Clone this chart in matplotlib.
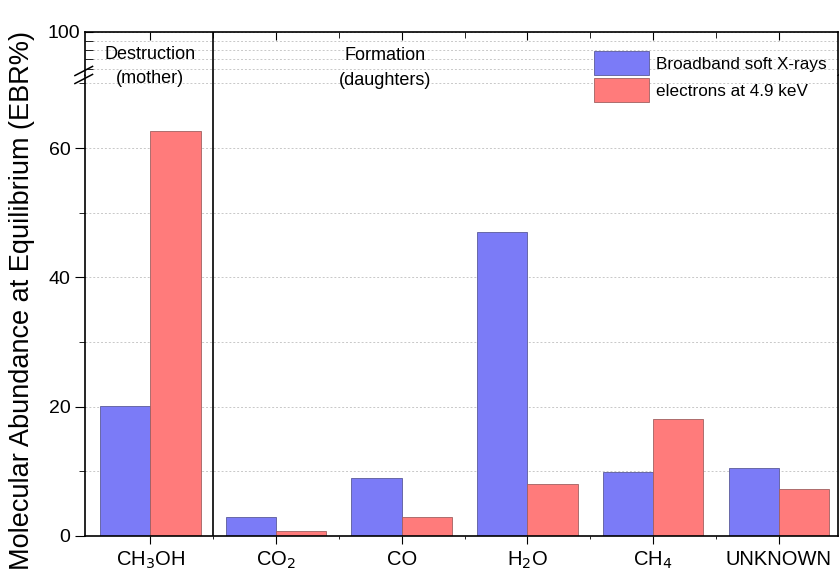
import matplotlib
matplotlib.use("Agg")
import matplotlib.pyplot as plt
import numpy as np

plt.rcParams['font.family'] = ['Liberation Sans', 'DejaVu Sans']

# data
species = ['CH$_3$OH', 'CO$_2$', 'CO', 'H$_2$O', 'CH$_4$', 'UNKNOWN']
xrays = [20.1, 2.9, 9.0, 47.0, 9.9, 10.5]
electrons = [62.6, 0.8, 2.9, 8.0, 18.1, 7.3]
series_names = ['Broadband soft X-rays', 'electrons at 4.9 keV']

blue = '#7b7bf7'
red = '#ff7b7b'

fig = plt.figure(figsize=(8.39, 5.71), dpi=100)
left, width = 0.1013, 0.8975
brk = 0.8687
ax = fig.add_axes([left, 0.0613, width, brk - 0.0613])
ax_top = fig.add_axes([left, brk, width, 0.944 - brk], sharex=ax)

x = np.arange(len(species))
w = 0.4
b1 = ax.bar(x - w / 2, xrays, w, color=blue, edgecolor='#5a5a9a', linewidth=0.6, label=series_names[0])
b2 = ax.bar(x + w / 2, electrons, w, color=red, edgecolor='#a06060', linewidth=0.6, label=series_names[1])

ax.set_xlim(-0.52, 5.47)
ax.set_ylim(0, 71.3)
ax_top.set_ylim(90.6, 100)

ax.set_xticks(x)
ax.set_xticklabels(species, fontsize=14.5)
ax.set_yticks([0, 20, 40, 60])
ax.set_yticks([10, 30, 50, 70], minor=True)
ax.tick_params(axis='y', which='major', labelsize=14, length=7, direction='out')
ax.tick_params(axis='y', which='minor', length=4, direction='out')
ax.tick_params(axis='x', which='major', length=6, direction='out', pad=4)

ax_top.set_yticks([100])
ax_top.set_yticks([92, 94, 96, 98], minor=True)
ax_top.tick_params(axis='y', which='major', labelsize=14, length=6, direction='in')
ax_top.tick_params(axis='y', which='minor', length=6, direction='in')
ax_top.tick_params(axis='x', which='both', bottom=False, labelbottom=False,
                   top=True, direction='in')
ax_top.tick_params(axis='x', which='major', length=6)
ax_top.tick_params(axis='x', which='minor', length=4)
ax_top.set_xticks(x[:-1] + 0.5, minor=True)

for a in (ax, ax_top):
    a.grid(True, which='both', axis='y', linestyle=(0, (2, 2)), color='#c8c8c8', linewidth=0.7)
    a.set_axisbelow(True)
    a.axvline(0.5, color='black', linewidth=1.2)
    for s in a.spines.values():
        s.set_linewidth(1.2)
ax.spines['top'].set_visible(False)
ax_top.spines['bottom'].set_visible(False)

# axis break marks on the left spine
for dy in (-0.007, 0.007):
    fig.add_artist(plt.Line2D([left - 0.012, left + 0.009],
                              [brk + dy - 0.008, brk + dy + 0.008],
                              transform=fig.transFigure, color='black', linewidth=1.1))

fig.text(left + (0 + 0.52) / 5.99 * width, 0.884, 'Destruction\n(mother)',
         ha='center', va='center', fontsize=13, linespacing=1.55)
fig.text(left + (1.87 + 0.52) / 5.99 * width, 0.881, 'Formation\n(daughters)',
         ha='center', va='center', fontsize=13, linespacing=1.55)

fig.legend(handles=[b1, b2], loc='upper left', bbox_to_anchor=(0.690, 0.937),
           frameon=False, fontsize=12.3, handlelength=3.2, handleheight=1.76,
           labelspacing=0.2, handletextpad=0.4, borderpad=0.4)

fig.text(0.026, 0.473, 'Molecular Abundance at Equilibrium (EBR%)', rotation=90,
         ha='center', va='center', fontsize=19.5)

fig.savefig('out.png', dpi=100)
